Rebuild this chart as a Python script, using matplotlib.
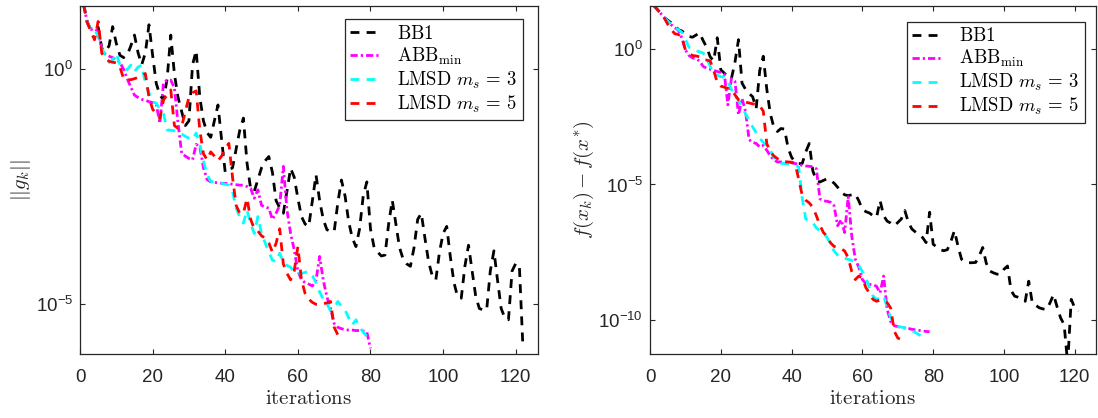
import numpy as np
import matplotlib
matplotlib.use("Agg")
import matplotlib.pyplot as plt

plt.rcParams["font.family"] = ["Liberation Sans", "DejaVu Sans"]
plt.rcParams["mathtext.fontset"] = "cm"

# log10 of ||g_k|| (left panel), iterations start at 1
g_bb1 = [1.38, 1.0, 0.85, 0.86, 0.9, 0.45, 0.38, 0.5, 0.91, 0.55,
         0.3, 0.25, 0.3, 0.5, 0.73, 0.35, 0.1, 0.35, 0.95, 0.3,
         -0.3, -0.55, -0.65, -0.2, 0.73, -0.1, -0.6, -0.9, -1.2, -1.1,
         0.1, 0.4, -0.6, -1.1, -1.35, -1.45, -1.1, -0.76, -1.5, -2.2,
         -2.15, -2.1, -1.7, -1.3, -1.04, -2.0, -2.55, -2.6, -2.35, -2.1,
         -1.95, -1.86, -2.2, -2.8, -2.95, -3.07, -2.6, -2.11, -2.3, -2.75,
         -3.14, -3.3, -3.35, -2.8, -2.25, -2.8, -3.2, -3.42, -3.45, -3.46,
         -2.85, -2.36, -2.7, -3.25, -3.6, -3.78, -3.4, -2.7, -2.4, -3.4,
         -3.8, -3.9, -3.98, -3.96, -3.3, -2.79, -3.3, -3.8, -4.05, -4.15,
         -4.2, -3.8, -3.2, -3.07, -3.6, -4.1, -4.4, -4.49, -3.9, -3.5,
         -3.35, -4.0, -4.55, -4.85, -4.88, -4.2, -3.75, -4.3, -4.85, -5.1,
         -5.13, -5.13, -4.3, -3.87, -4.5, -5.1, -5.3, -5.34, -4.3, -4.14,
         -4.18, -5.95]
g_abb = [1.38, 1.0, 0.85, 0.87, 0.8, 0.45, 0.32, 0.28, 0.25, 0.2,
         0.15, 0.0, -0.2, -0.38, -0.55, -0.6, -0.64, -0.66, -0.69, -0.71,
         -0.75, -1.15, -0.28, -0.24, -0.23, -0.4, -1.15, -1.79, -1.85, -1.9,
         -1.93, -1.6, -1.65, -2.1, -2.35, -2.4, -2.41, -2.42, -2.43, -2.43,
         -2.44, -2.45, -2.46, -2.47, -2.47, -2.5, -2.54, -2.75, -2.57, -2.9,
         -2.94, -2.96, -3.2, -3.07, -2.9, -2.07, -3.0, -3.5, -3.85, -4.3,
         -4.49, -4.55, -4.58, -4.62, -4.5, -3.99, -4.5, -4.85, -5.1, -5.42,
         -5.5, -5.53, -5.55, -5.56, -5.56, -5.57, -5.57, -5.58, -5.6, -5.95]
g_lmsd3 = [1.38, 1.0, 0.85, 0.85, 0.7, 0.45, 0.3, 0.15, 0.2, 0.34,
           0.09, 0.02, -0.01, 0.09, -0.05, 0.05, 0.09, -0.3, -0.5, -0.7,
           -0.72, -0.85, -0.95, -1.29, -1.3, -1.31, -1.33, -1.38, -1.43, -1.47,
           -1.5, -1.36, -1.6, -1.95, -2.25, -2.39, -2.4, -2.41, -2.43, -2.45,
           -2.47, -2.6, -2.95, -3.15, -3.28, -3.0, -3.3, -3.5, -3.14, -3.5,
           -3.7, -3.9, -4.07, -4.1, -3.92, -4.1, -4.18, -4.22, -4.33, -4.35,
           -4.35, -4.33, -4.31, -4.4, -4.55, -4.75, -4.9, -5.0, -5.15, -5.1,
           -4.95, -5.05, -5.13, -5.3, -5.45, -5.34, -5.5, -5.6, -5.7]
g_lmsd5 = [1.38, 1.0, 0.8, 0.63, 1.02, 0.34, 0.25, 0.17, 0.15, 0.14,
           0.05, -0.2, -0.23, -0.22, -0.2, -0.17, -0.14, -0.09, -0.6, -0.85,
           -0.95, -1.04, -0.65, -0.55, -0.44, -1.2, -1.26, -1.22, -0.9, -0.6,
           -0.5, -0.46, -1.3, -1.8, -1.93, -1.76, -1.85, -1.95, -1.85, -1.7,
           -1.58, -2.3, -2.9, -3.07, -3.07, -2.75, -3.2, -3.4, -3.45, -3.55,
           -3.6, -3.7, -3.9, -3.71, -3.4, -4.15, -4.35, -4.49, -4.3, -3.78,
           -4.49, -4.78, -4.9, -4.97, -5.01, -5.02, -5.0, -4.98, -4.95, -5.5,
           -5.66]

# log10 of f(x_k) - f(x*) (right panel)
f_bb1 = [1.6, 1.45, 1.3, 1.14, 1.05, 0.95, 0.85, 0.7, 0.65, 0.55,
         0.45, 0.42, 0.5, 0.58, 0.3, 0.05, -0.3, -0.45, 0.4, -0.78,
         -0.9, -1.05, -1.1, -0.5, 0.33, -1.27, -1.5, -1.65, -1.77, -2.2,
         -0.8, -0.28, -1.5, -2.4, -2.9, -3.05, -2.94, -2.96, -3.65, -4.0,
         -4.17, -4.23, -4.23, -3.8, -3.49, -4.5, -4.85, -4.91, -4.85, -4.79,
         -4.85, -4.95, -5.1, -5.28, -5.38, -5.41, -5.38, -5.35, -5.6, -5.92,
         -6.0, -6.05, -6.15, -6.21, -5.59, -6.15, -6.35, -6.42, -6.52, -6.4,
         -6.27, -5.96, -6.4, -6.64, -6.75, -6.85, -6.95, -7.14, -6.02, -7.2,
         -7.3, -7.4, -7.44, -7.4, -7.1, -6.7, -7.26, -7.75, -7.85, -7.88,
         -7.88, -7.87, -7.63, -7.32, -7.9, -8.19, -8.25, -8.3, -8.31, -8.12,
         -8.0, -8.9, -9.11, -9.15, -9.2, -9.3, -8.56, -9.36, -9.45, -9.54,
         -9.58, -9.6, -9.36, -9.05, -9.5, -9.91, -10.16, -11.6, -9.23, -9.54,
         -9.67]
f_abb = [1.6, 1.45, 1.3, 1.14, 1.01, 0.88, 0.77, 0.68, 0.4, -0.05,
         -0.25, -0.34, -0.38, -0.45, -0.65, -0.72, -0.76, -0.8, -0.84, -0.88,
         -0.93, -2.07, -1.1, -1.2, -2.44, -1.83, -2.32, -3.35, -3.45, -3.49,
         -3.62, -3.56, -3.74, -3.95, -4.1, -4.17, -4.17, -4.17, -4.18, -4.2,
         -4.23, -4.25, -4.3, -4.32, -4.33, -4.35, -4.42, -5.53, -5.6, -5.62,
         -5.65, -5.78, -6.52, -6.3, -6.77, -5.45, -6.9, -7.75, -8.05, -8.5,
         -8.65, -8.68, -8.68, -8.75, -8.99, -8.37, -9.6, -10.05, -10.2, -10.23,
         -10.26, -10.28, -10.3, -10.33, -10.35, -10.37, -10.39, -10.41, -10.42]
f_lmsd3 = [1.6, 1.45, 1.3, 1.14, 1.02, 0.9, 0.78, 0.7, 0.6, 0.35,
           0.05, 0.0, -0.07, -0.12, -0.16, -0.35, -0.65, -0.88, -0.98, -1.03,
           -1.05, -1.2, -1.5, -1.72, -1.9, -2.15, -2.4, -2.65, -2.88, -3.1,
           -3.3, -3.45, -3.57, -3.75, -4.0, -4.18, -4.22, -4.23, -4.24, -4.26,
           -4.3, -4.35, -5.5, -6.27, -6.33, -6.4, -6.6, -6.7, -6.77, -6.95,
           -7.2, -7.45, -7.6, -7.68, -7.72, -7.75, -7.8, -7.88, -8.0, -8.2,
           -8.45, -8.8, -9.1, -9.23, -9.17, -9.1, -9.5, -9.9, -10.15, -10.22,
           -10.25, -10.28, -10.33, -10.38, -10.45, -10.53, -10.6, -10.67]
f_lmsd5 = [1.6, 1.45, 1.3, 1.14, 0.9, 0.7, 0.55, 0.52, 0.45, -0.05,
           -0.18, -0.25, -0.27, -0.3, -0.41, -0.42, -0.45, -0.8, -1.25, -1.38,
           -1.42, -1.46, -1.5, -1.7, -1.88, -1.93, -1.97, -2.0, -2.03, -2.06,
           -2.1, -2.3, -3.5, -3.8, -3.95, -4.05, -4.12, -4.17, -4.17, -4.18,
           -4.23, -4.8, -5.4, -5.58, -5.68, -5.84, -6.15, -6.5, -6.77, -6.9,
           -7.15, -7.28, -7.32, -7.36, -7.45, -7.7, -8.2, -8.5, -8.37, -8.45,
           -8.8, -9.0, -9.23, -9.3, -9.25, -9.3, -9.35, -9.55, -10.4, -10.65,
           -10.72]

labels = [r"$\mathrm{BB1}$", r"$\mathrm{ABB}_{\mathrm{min}}$",
          r"$\mathrm{LMSD}\ m_s\, =\, 3$", r"$\mathrm{LMSD}\ m_s\, =\, 5$"]
colors = ["black", "#ff00ff", "#00ffff", "#ff0000"]
styles = [(0, (3.2, 2.6)), (0, (2.6, 1.1, 0.8, 1.1)), (0, (3.2, 2.6)), (0, (3.2, 2.6))]

fig = plt.figure(figsize=(10.98, 4.18), dpi=100)
ax1 = fig.add_axes([80 / 1098, 1 - 354 / 418, 457.5 / 1098, 348 / 418])
ax2 = fig.add_axes([650 / 1098, 1 - 354 / 418, 446 / 1098, 348 / 418])

panels = [
    (ax1, [g_bb1, g_abb, g_lmsd3, g_lmsd5], (-6.07, 1.35), [0, -5],
     r"$||g_k||$", (0.968, 0.963)),
    (ax2, [f_bb1, f_abb, f_lmsd3, f_lmsd5], (-11.24, 1.57), [0, -5, -10],
     r"$f(x_k) - f(x^{*})$", (0.975, 0.955)),
]

gray = "#262626"
for ax, series, ylims, yt, ylab, anchor in panels:
    for s, lab, c, ls in zip(series, labels, colors, styles):
        k = np.arange(1, len(s) + 1)
        ax.plot(k, 10.0 ** np.array(s), color=c, linestyle=ls, lw=2, label=lab)
    ax.set_yscale("log")
    ax.set_xlim(0, 126)
    ax.set_ylim(10.0 ** ylims[0], 10.0 ** ylims[1])
    ax.set_xticks([0, 20, 40, 60, 80, 100, 120])
    ax.set_yticks([10.0 ** e for e in yt])
    ax.set_yticklabels([r"$\mathregular{10^{%d}}$" % e for e in yt])
    ax.yaxis.set_minor_locator(matplotlib.ticker.NullLocator())
    ax.tick_params(direction="in", top=True, right=True, length=3.5, width=0.8,
                   labelsize=13.5, colors=gray)
    ax.tick_params(axis="x", pad=11)
    ax.tick_params(axis="y", pad=5)
    for sp in ax.spines.values():
        sp.set_color(gray)
        sp.set_linewidth(0.9)
    ax.set_xlabel(r"$\mathrm{iterations}$", fontsize=15, color=gray, labelpad=2)
    ax.set_ylabel(ylab, fontsize=15, color=gray, labelpad=2)
    leg = ax.legend(loc="upper right", bbox_to_anchor=anchor, fontsize=13.5,
                    fancybox=False, framealpha=1, edgecolor=gray,
                    handlelength=1.6, handletextpad=0.9, labelspacing=0.15,
                    borderpad=0.3, borderaxespad=0)
    leg.get_frame().set_linewidth(0.9)

fig.savefig("out.png", dpi=100)
